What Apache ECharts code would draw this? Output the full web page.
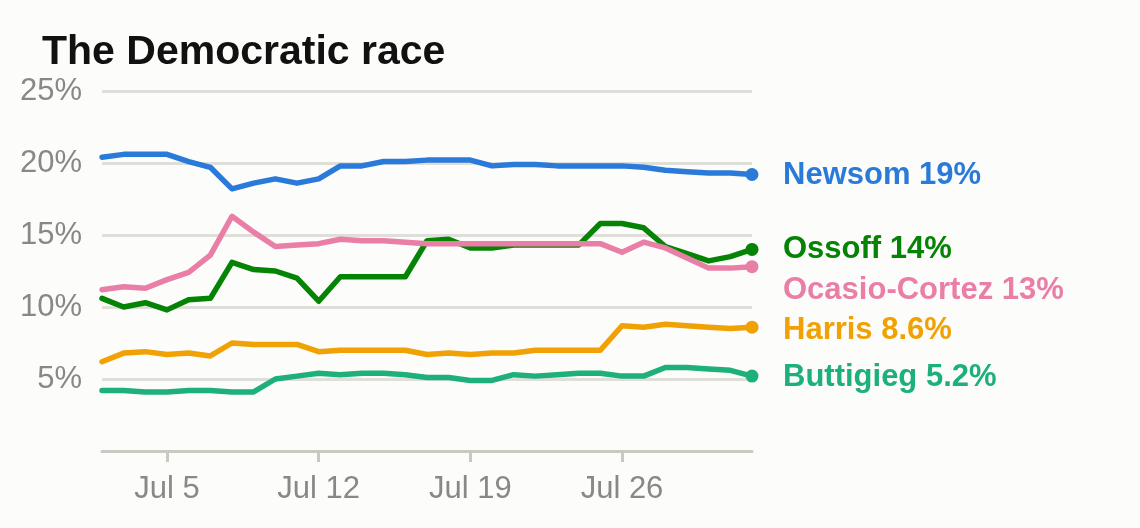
<!DOCTYPE html>
<html lang="en">
<head>
    <meta charset="UTF-8">
    <title>The Democratic race</title>
    <script src="https://cdn.jsdelivr.net/npm/echarts@6/dist/echarts.min.js"></script>
    <style>
        html, body { margin: 0; padding: 0; background: #fcfcfa; }
    </style>
</head>
<body>
    <div id="chart" style="width:1140px;height:528px"></div>
    <script>
        // daily dates, Jul 2 - Aug 1
        var days = ['Jul 2', 'Jul 3', 'Jul 4', 'Jul 5', 'Jul 6', 'Jul 7', 'Jul 8', 'Jul 9', 'Jul 10',
            'Jul 11', 'Jul 12', 'Jul 13', 'Jul 14', 'Jul 15', 'Jul 16', 'Jul 17', 'Jul 18', 'Jul 19',
            'Jul 20', 'Jul 21', 'Jul 22', 'Jul 23', 'Jul 24', 'Jul 25', 'Jul 26', 'Jul 27', 'Jul 28',
            'Jul 29', 'Jul 30', 'Jul 31', 'Aug 1'];
        var tickDays = ['Jul 5', 'Jul 12', 'Jul 19', 'Jul 26'];
        var yTicks = [0, 5, 10, 15, 20, 25];

        var newsom = [20.4, 20.6, 20.6, 20.6, 20.1, 19.7, 18.2, 18.6, 18.9, 18.6, 18.9, 19.8, 19.8, 20.1, 20.1,
            20.2, 20.2, 20.2, 19.8, 19.9, 19.9, 19.8, 19.8, 19.8, 19.8, 19.7, 19.5, 19.4, 19.3, 19.3, 19.2];
        var ossoff = [10.6, 10.0, 10.3, 9.8, 10.5, 10.6, 13.1, 12.6, 12.5, 12.0, 10.4, 12.1, 12.1, 12.1, 12.1,
            14.6, 14.7, 14.1, 14.1, 14.3, 14.3, 14.3, 14.3, 15.8, 15.8, 15.5, 14.2, 13.7, 13.2, 13.5, 14.0];
        var ocasio = [11.2, 11.4, 11.3, 11.9, 12.4, 13.6, 16.3, 15.2, 14.2, 14.3, 14.4, 14.7, 14.6, 14.6, 14.5,
            14.4, 14.4, 14.4, 14.4, 14.4, 14.4, 14.4, 14.4, 14.4, 13.8, 14.5, 14.1, 13.4, 12.7, 12.7, 12.8];
        var harris = [6.2, 6.8, 6.9, 6.7, 6.8, 6.6, 7.5, 7.4, 7.4, 7.4, 6.9, 7.0, 7.0, 7.0, 7.0,
            6.7, 6.8, 6.7, 6.8, 6.8, 7.0, 7.0, 7.0, 7.0, 8.7, 8.6, 8.8, 8.7, 8.6, 8.5, 8.6];
        var buttigieg = [4.2, 4.2, 4.1, 4.1, 4.2, 4.2, 4.1, 4.1, 5.0, 5.2, 5.4, 5.3, 5.4, 5.4, 5.3,
            5.1, 5.1, 4.9, 4.9, 5.3, 5.2, 5.3, 5.4, 5.4, 5.2, 5.2, 5.8, 5.8, 5.7, 5.6, 5.2];

        var names = ['Newsom', 'Ossoff', 'Ocasio-Cortez', 'Harris', 'Buttigieg'];
        var values = [newsom, ossoff, ocasio, harris, buttigieg];
        var endText = ['19%', '14%', '13%', '8.6%', '5.2%'];
        var colors = ['#2a7ad9', '#058305', '#e97ea6', '#f0a204', '#1db07b'];
        var labelShift = [[0, 1], [0, 0], [0, 24], [0, 3], [0, 1]];

        var font = '"Liberation Sans", Arial, sans-serif';
        var mCharts = echarts.init(document.getElementById('chart'));

        var seriesArr = names.map(function (name, i) {
            var arr = values[i];
            // 只在最后一个点画圆点
            var data = arr.map(function (v, k) {
                if (k === arr.length - 1) return { value: v, symbol: 'circle', symbolSize: 13 };
                return { value: v, symbol: 'none' };
            });
            return {
                name: name,
                type: 'line',
                data: data,
                showAllSymbol: true,
                animation: false,
                lineStyle: { width: 5.5, color: colors[i], cap: 'round', join: 'round' },
                itemStyle: { color: colors[i] },
                emphasis: { disabled: true },
                endLabel: {
                    show: true,
                    distance: 31,
                    offset: labelShift[i],
                    formatter: function () { return name + ' ' + endText[i]; },
                    color: colors[i],
                    fontFamily: font,
                    fontWeight: 'bold',
                    fontSize: 31
                }
            };
        });

        var option = {
            backgroundColor: '#fcfcfa',
            title: {
                text: 'The Democratic race',
                left: 37,
                top: 27,
                textStyle: { fontFamily: font, fontWeight: 'bold', fontSize: 41, color: '#111' }
            },
            grid: { left: 102, right: 388, top: 91, bottom: 77 },
            xAxis: {
                type: 'category',
                data: days,
                boundaryGap: false,
                axisLine: { lineStyle: { color: '#c9c9c1', width: 3 } },
                axisTick: {
                    show: true,
                    length: 11,
                    interval: function (idx, val) { return tickDays.indexOf(val) >= 0; },
                    lineStyle: { color: '#c9c9c1', width: 3 }
                },
                axisLabel: {
                    interval: function (idx, val) { return tickDays.indexOf(val) >= 0; },
                    margin: 23,
                    color: '#888',
                    fontFamily: font,
                    fontSize: 31
                },
                splitLine: { show: false }
            },
            yAxis: {
                type: 'value',
                min: yTicks[0],
                max: yTicks[yTicks.length - 1],
                interval: 5,
                axisLine: { show: false },
                axisTick: { show: false },
                axisLabel: {
                    margin: 20,
                    color: '#888',
                    fontFamily: font,
                    fontSize: 31,
                    formatter: function (v) { return v === 0 ? '' : v + '%'; }
                },
                splitLine: { lineStyle: { color: '#dfded8', width: 3 } }
            },
            series: seriesArr
        };

        mCharts.setOption(option);
    </script>
</body>
</html>
